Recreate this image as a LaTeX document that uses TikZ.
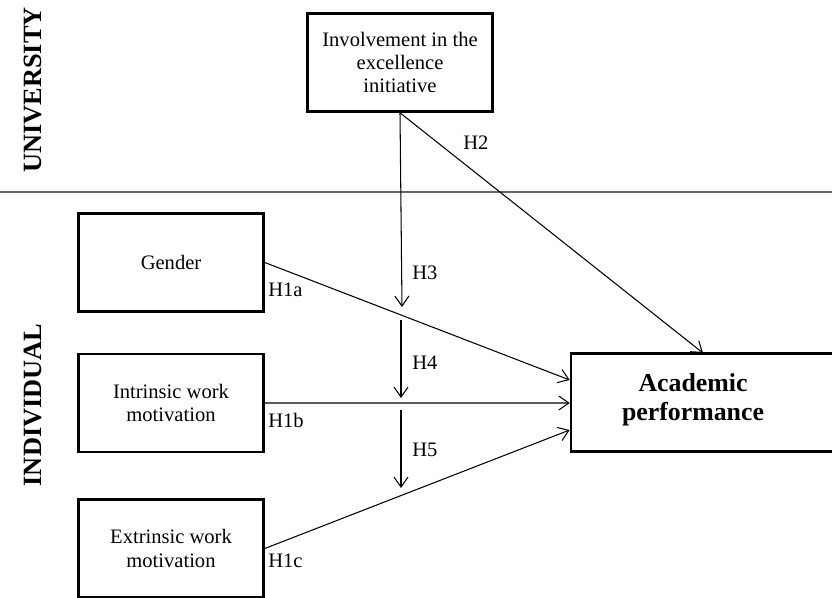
\documentclass[tikz,border=0pt]{standalone}
\usepackage{fontspec}
\setmainfont{Liberation Serif}
\usetikzlibrary{positioning}
\usetikzlibrary{calc}
\usetikzlibrary{arrows.meta}

\begin{document}
\begin{tikzpicture}[x=0.02cm, y=-0.02cm]
    % frame of the picture (pixel units, y grows downwards)
    \useasboundingbox (0, 0) rectangle (832, 598);
    \clip (0, 0) rectangle (832, 598);

    \tikzstyle{box} = [draw=black, rectangle, line width=1.5pt, minimum width=3.7cm, minimum height=1.96cm, align=center, font=\fontsize{11.7}{13.2}\selectfont]
    \tikzstyle{bigbox} = [draw=black, rectangle, line width=1.5pt, minimum width=5.6cm, minimum height=1.96cm]
    \tikzstyle{arr} = [draw=black, line width=0.6pt, -{Straight Barb[length=2mm, width=2.8mm]}]
    \tikzstyle{hyp} = [font=\fontsize{11.7}{13.2}\selectfont, inner sep=0pt, anchor=west]
    \tikzstyle{level} = [font=\fontsize{15}{17}\selectfont\bfseries, rotate=90]

    % level labels and the dividing line
    \node[level] (uni) at (33, 90) {UNIVERSITY};
    \node[level] (ind) at (33, 405) {INDIVIDUAL};
    \draw[draw=gray!80!black, line width=0.7pt] (0, 192) -- (832, 192);

    % the boxes
    \node[box] (inv) at (400, 62.5) {Involvement in the\\excellence\\initiative};
    \node[box] (gen) at (171, 262.5) {Gender};
    \node[box] (intr) at (171, 403) {Intrinsic work\\motivation};
    \node[box] (extr) at (171, 548.5) {Extrinsic work\\motivation};
    \node[bigbox] (acad) at (711, 402.5) {};
    \node[font=\fontsize{14.7}{16.5}\selectfont\bfseries, align=center] (acadtxt) at (693, 400) {Academic\\performance};

    % end points on the academic performance box
    \coordinate (a1) at ($(acad.west) + (0, -22.5)$);
    \coordinate (a2) at ($(acad.west) + (0, 0.5)$);
    \coordinate (a3) at ($(acad.west) + (0, 27.5)$);
    \coordinate (a0) at (703, 353);

    % moderating arrows
    \coordinate (m3) at (402, 307);
    \coordinate (m4a) at (401, 320);
    \coordinate (m4b) at (401, 398);
    \coordinate (m5a) at (401, 410);
    \coordinate (m5b) at (401, 488);

    % direct effects
    \draw[arr] (gen.east) -- (a1);
    \draw[arr] (intr.east) -- (a2);
    \draw[arr] (extr.east) -- (a3);
    \draw[arr] (inv.south) -- (a0);

    % moderation
    \draw[arr] (inv.south) -- (m3);
    \draw[arr] (m4a) -- (m4b);
    \draw[arr] (m5a) -- (m5b);

    % hypothesis labels
    \node[hyp] (h1a) at (268, 290) {H1a};
    \node[hyp] (h1b) at (268, 420) {H1b};
    \node[hyp] (h1c) at (268, 561) {H1c};
    \node[hyp] (h2) at (463, 143) {H2};
    \node[hyp] (h3) at (412, 273) {H3};
    \node[hyp] (h4) at (412, 363) {H4};
    \node[hyp] (h5) at (412, 450) {H5};

\end{tikzpicture}
\end{document}
